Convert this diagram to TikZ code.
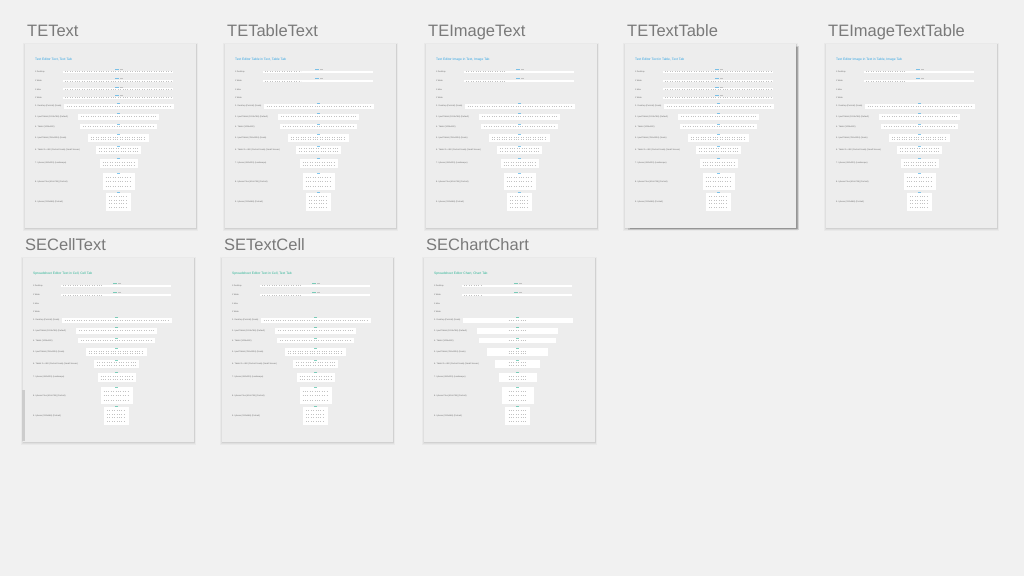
\documentclass[tikz,border=0pt]{standalone}
\usepackage{fontspec}
\setmainfont{Liberation Sans}

\definecolor{canvasbg}{HTML}{F1F1F1}
\definecolor{boardbg}{HTML}{EDEDED}
\definecolor{labelgray}{HTML}{7A7A7A}
\definecolor{rowgray}{HTML}{6A6A6A}
\definecolor{icongray}{HTML}{C2C2C2}
\definecolor{teblue}{HTML}{2EA3E3}
\definecolor{segreen}{HTML}{2DB596}

\tikzset{
  canvas/.style={fill=canvasbg},
  board/.style={fill=boardbg},
  softshadow/.style={fill=black, opacity=#1},
  boardlabel/.style={anchor=base west, inner sep=0pt, text=labelgray, font=\fontsize{16.5}{19}\selectfont},
  boardtitle/.style={anchor=west, inner sep=0pt, font=\fontsize{3.3}{4}\selectfont},
  rowlabel/.style={anchor=west, inner sep=0pt, text=rowgray, font=\fontsize{2.1}{2.5}\selectfont},
  panel/.style={fill=white},
  icons/.style={draw=icongray, line width=0.6pt, dash pattern=on 0.6pt off 1.8pt},
}

% name, x, y, title, colour, thin rows, thin icon span, panel icon span
\newcommand\artboard[8]{%
  \begin{scope}[shift={(#2,#3)}]
    \fill[softshadow=0.03] (-2,-1.5) rectangle (173,187);
    \fill[softshadow=0.04] (-1,-0.5) rectangle (172,186);
    \fill[softshadow=0.06] (-0.5,0) rectangle (171.5,185);
    \fill[board] (0,0) rectangle (171,184);
    \node[boardlabel] (#1-label) at (2,-8) {#1};
    \node[boardtitle, text=#5] (#1-title) at (10,16) {#4};
    % device names
    \foreach \ry/\rt [count=\i] in {27.7/{1 Desktop}, 37/{1 Wide}, 45.3/{1 Max}, 53.7/{1 Wide},
        62/{2. Desktop (Portrait) (Scale)}, 72.7/{3. Ipad Tablet (1024x768) (Default)},
        82.7/{4. Tablet (1024x800)}, 94.3/{5. Ipad Tablet (768x1024) (Scale)},
        106/{6. Tablet 2 x 480 (Portrait Scale) (Small Screen)}, 119.3/{7. Iphone (480x320) (Landscape)},
        137.7/{8. Iphone Plus (414x736) (Portrait)}, 157.7/{9. Iphone (320x568) (Portrait)}}
      \node[rowlabel] (#1-r\i) at (10,\ry) {\rt};
    % thin toolbars
    \foreach \ry in {#6} {
      \fill[panel] (38,\ry-0.9) rectangle (148,\ry+0.9);
      \draw[icons] (40,\ry) -- ++(#7,0);
      \fill[#5, opacity=0.6] (90,\ry-2.6) rectangle ++(3.5,1);
      \fill[icongray] (95,\ry-2.6) rectangle ++(3,1);
    }
    % toolbar panels
    \foreach \ry/\rw/\rh/\rn in {62/110/5/1, 72.7/81/6/1, 82.7/77/5/1, 94.3/61/8/2,
        106/45/8/2, 119.3/38/9/2, 137.7/32/17/3, 157.7/25/18/4} {
      \pgfmathsetmacro\span{min(\rw-6,#8)}
      \fill[panel] (93.5-\rw/2,\ry-\rh/2) rectangle (93.5+\rw/2,\ry+\rh/2);
      \fill[#5, opacity=0.6] (91.5,\ry-\rh/2-0.5) rectangle ++(3,1);
      \foreach \k in {1,...,\rn}
        \draw[icons] (93.5-\span/2,{\ry-\rh/2+\k*\rh/(\rn+1)}) -- ++(\span,0);
    }
  \end{scope}}

\begin{document}
\begin{tikzpicture}[x=1pt, y=-1pt]
  \useasboundingbox (0,0) rectangle (1024,576);
  \fill[canvas] (0,0) rectangle (1024,576);

  % selected board
  \fill[softshadow=0.12] (628,46) rectangle (799,230);
  \fill[softshadow=0.18] (630,47) rectangle (797.5,229);

  \artboard{TEText}{25}{44}{Text Editor Text, Text Tab}{teblue}{27.7,37,45.3,53.7}{106}{104}
  \artboard{TETableText}{225}{44}{Text Editor Table in Text, Table Tab}{teblue}{27.7,37}{36}{104}
  \artboard{TEImageText}{426}{44}{Text Editor Image in Text, Image Tab}{teblue}{27.7,37}{40}{104}
  \artboard{TETextTable}{625}{44}{Text Editor Text in Table, Text Tab}{teblue}{27.7,37,45.3,53.7}{106}{104}
  \artboard{TEImageTextTable}{826}{44}{Text Editor Image in Text in Table, Image Tab}{teblue}{27.7,37}{40}{104}

  \artboard{SECellText}{23}{258}{Spreadsheet Editor Text in Cell, Cell Tab}{segreen}{27.7,37}{40}{104}
  \artboard{SETextCell}{222}{258}{Spreadsheet Editor Text in Cell, Text Tab}{segreen}{27.7,37}{40}{104}
  \artboard{SEChartChart}{424}{258}{Spreadsheet Editor Chart, Chart Tab}{segreen}{27.7,37}{17}{18}

  \fill[black!20] (22,390) rectangle (24.5,441);
\end{tikzpicture}
\end{document}
